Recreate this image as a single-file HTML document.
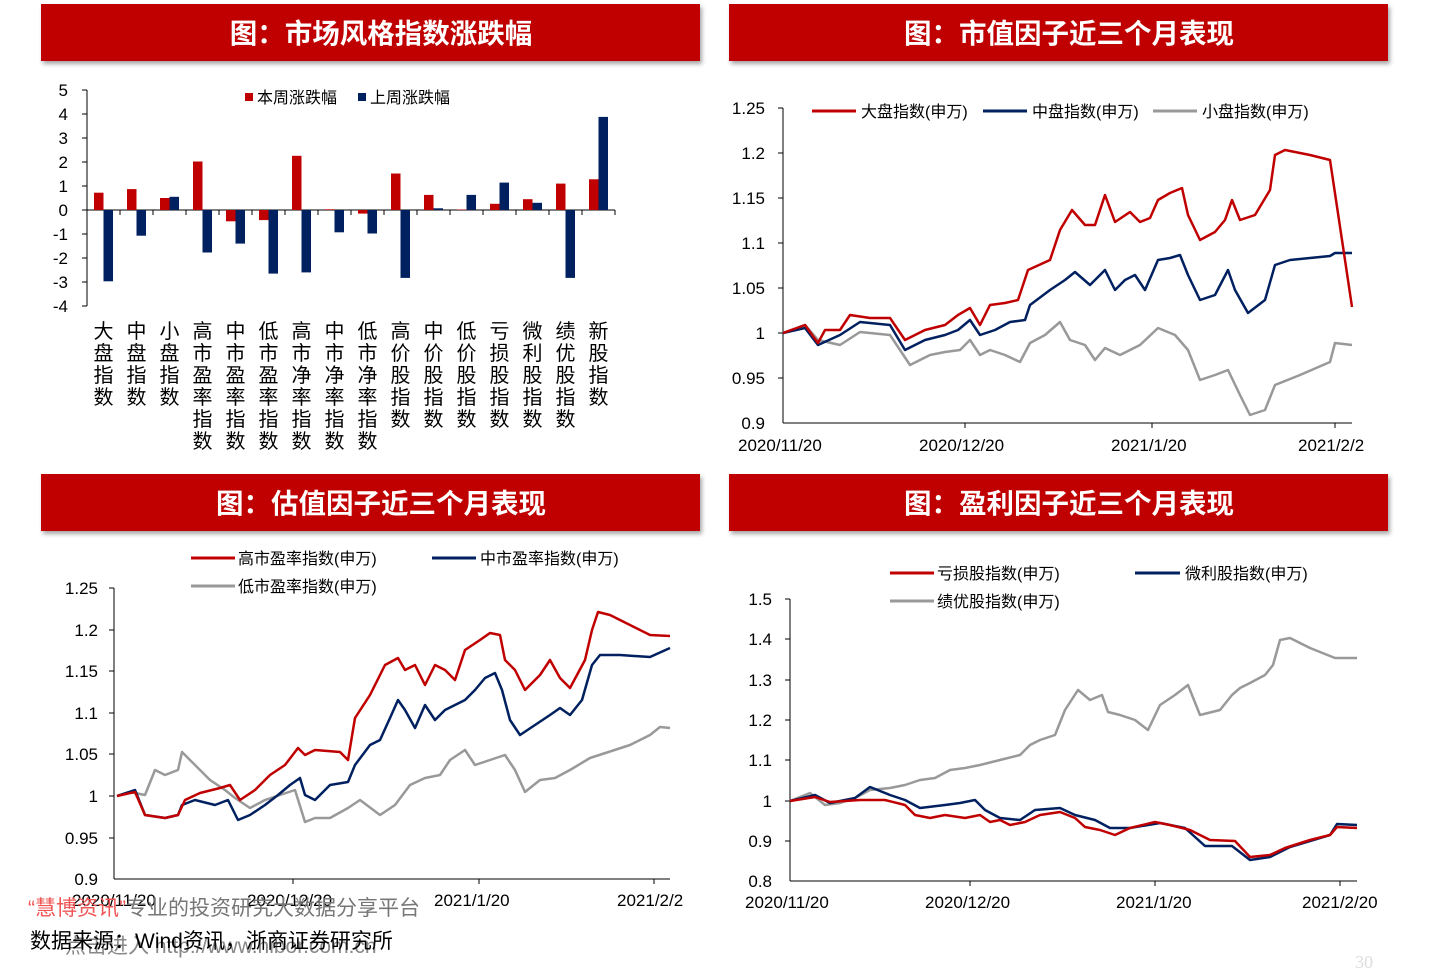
<!DOCTYPE html>
<html><head><meta charset="utf-8"><style>
body{margin:0;background:#fff;}
svg{display:block;font-family:"Liberation Sans","Noto Sans CJK SC",sans-serif;}
.t{font-size:16px;fill:#000}
.ttl{font-size:27.5px;font-weight:bold;fill:#fff}
</style></head><body>
<svg width="1440" height="974" viewBox="0 0 1440 974" xmlns="http://www.w3.org/2000/svg">
<defs><filter id="sh" x="-5%" y="-20%" width="110%" height="150%"><feDropShadow dx="2" dy="3" stdDeviation="2" flood-color="#000" flood-opacity="0.35"/></filter></defs>
<g filter="url(#sh)" fill="#c00000">
<rect x="41" y="4" width="659" height="57"/><rect x="729" y="4" width="659" height="57"/>
<rect x="41" y="474" width="659" height="57"/><rect x="729" y="474" width="659" height="57"/>
</g>
<g class="ttl" text-anchor="middle">
<text x="381" y="43" class="ttl">图：市场风格指数涨跌幅</text>
<text x="1069" y="43" class="ttl">图：市值因子近三个月表现</text>
<text x="381" y="513" class="ttl">图：估值因子近三个月表现</text>
<text x="1069" y="513" class="ttl">图：盈利因子近三个月表现</text>
</g>

<!-- Bar chart -->
<g stroke="#000" stroke-width="1" fill="none">
<line x1="87" y1="90" x2="87" y2="306"/>
<line x1="87" y1="210" x2="615" y2="210"/>
</g>
<g stroke="#000">
<line x1="82" y1="90" x2="87" y2="90"/><line x1="82" y1="114" x2="87" y2="114"/><line x1="82" y1="138" x2="87" y2="138"/><line x1="82" y1="162" x2="87" y2="162"/><line x1="82" y1="186" x2="87" y2="186"/><line x1="82" y1="210" x2="87" y2="210"/><line x1="82" y1="234" x2="87" y2="234"/><line x1="82" y1="258" x2="87" y2="258"/><line x1="82" y1="282" x2="87" y2="282"/><line x1="82" y1="306" x2="87" y2="306"/>
<line x1="120" y1="210" x2="120" y2="215"/><line x1="153" y1="210" x2="153" y2="215"/><line x1="186" y1="210" x2="186" y2="215"/><line x1="219" y1="210" x2="219" y2="215"/><line x1="252" y1="210" x2="252" y2="215"/><line x1="285" y1="210" x2="285" y2="215"/><line x1="318" y1="210" x2="318" y2="215"/><line x1="351" y1="210" x2="351" y2="215"/><line x1="384" y1="210" x2="384" y2="215"/><line x1="417" y1="210" x2="417" y2="215"/><line x1="450" y1="210" x2="450" y2="215"/><line x1="483" y1="210" x2="483" y2="215"/><line x1="516" y1="210" x2="516" y2="215"/><line x1="549" y1="210" x2="549" y2="215"/><line x1="582" y1="210" x2="582" y2="215"/><line x1="615" y1="210" x2="615" y2="215"/>
</g>
<g class="t" text-anchor="end" style="font-size:17px">
<text x="68" y="96">5</text><text x="68" y="120">4</text><text x="68" y="144">3</text><text x="68" y="168">2</text><text x="68" y="192">1</text><text x="68" y="216">0</text><text x="68" y="240">-1</text><text x="68" y="264">-2</text><text x="68" y="288">-3</text><text x="68" y="312">-4</text>
</g>
<g fill="#c00000">
<rect x="94" y="192.7" width="9.5" height="17.3"/>
<rect x="127" y="189.1" width="9.5" height="20.9"/>
<rect x="160" y="198" width="9.5" height="12"/>
<rect x="193" y="161.5" width="9.5" height="48.5"/>
<rect x="226" y="210" width="9.5" height="11.3"/>
<rect x="259" y="210" width="9.5" height="10.1"/>
<rect x="292" y="155.8" width="9.5" height="54.2"/>
<rect x="325" y="209.3" width="9.5" height="0.7"/>
<rect x="358" y="210" width="9.5" height="3.6"/>
<rect x="391" y="173.5" width="9.5" height="36.5"/>
<rect x="424" y="194.9" width="9.5" height="15.1"/>
<rect x="457" y="209.5" width="9.5" height="0.5"/>
<rect x="490" y="203.8" width="9.5" height="6.2"/>
<rect x="523" y="199.2" width="9.5" height="10.8"/>
<rect x="556" y="183.6" width="9.5" height="26.4"/>
<rect x="589" y="179.3" width="9.5" height="30.7"/>
</g>
<g fill="#002060">
<rect x="103.5" y="210" width="9.5" height="71.3"/>
<rect x="136.5" y="210" width="9.5" height="25.7"/>
<rect x="169.5" y="196.8" width="9.5" height="13.2"/>
<rect x="202.5" y="210" width="9.5" height="42.5"/>
<rect x="235.5" y="210" width="9.5" height="33.6"/>
<rect x="268.5" y="210" width="9.5" height="63.6"/>
<rect x="301.5" y="210" width="9.5" height="62.4"/>
<rect x="334.5" y="210" width="9.5" height="22.3"/>
<rect x="367.5" y="210" width="9.5" height="23.5"/>
<rect x="400.5" y="210" width="9.5" height="67.9"/>
<rect x="433.5" y="208.3" width="9.5" height="1.7"/>
<rect x="466.5" y="194.9" width="9.5" height="15.1"/>
<rect x="499.5" y="182.6" width="9.5" height="27.4"/>
<rect x="532.5" y="202.8" width="9.5" height="7.2"/>
<rect x="565.5" y="210" width="9.5" height="67.9"/>
<rect x="598.5" y="116.9" width="9.5" height="93.1"/>
</g>
<rect x="245" y="93" width="8" height="8" fill="#c00000"/><text x="257" y="103" class="t">本周涨跌幅</text>
<rect x="358" y="93" width="8" height="8" fill="#002060"/><text x="370" y="103" class="t">上周涨跌幅</text>
<g style="font-size:20px" text-anchor="middle" fill="#000">
<text x="103.5" y="338"><tspan x="103.5">大</tspan><tspan x="103.5" dy="22">盘</tspan><tspan x="103.5" dy="22">指</tspan><tspan x="103.5" dy="22">数</tspan></text>
<text x="136.5" y="338"><tspan x="136.5">中</tspan><tspan x="136.5" dy="22">盘</tspan><tspan x="136.5" dy="22">指</tspan><tspan x="136.5" dy="22">数</tspan></text>
<text x="169.5" y="338"><tspan x="169.5">小</tspan><tspan x="169.5" dy="22">盘</tspan><tspan x="169.5" dy="22">指</tspan><tspan x="169.5" dy="22">数</tspan></text>
<text x="202.5" y="338"><tspan x="202.5">高</tspan><tspan x="202.5" dy="22">市</tspan><tspan x="202.5" dy="22">盈</tspan><tspan x="202.5" dy="22">率</tspan><tspan x="202.5" dy="22">指</tspan><tspan x="202.5" dy="22">数</tspan></text>
<text x="235.5" y="338"><tspan x="235.5">中</tspan><tspan x="235.5" dy="22">市</tspan><tspan x="235.5" dy="22">盈</tspan><tspan x="235.5" dy="22">率</tspan><tspan x="235.5" dy="22">指</tspan><tspan x="235.5" dy="22">数</tspan></text>
<text x="268.5" y="338"><tspan x="268.5">低</tspan><tspan x="268.5" dy="22">市</tspan><tspan x="268.5" dy="22">盈</tspan><tspan x="268.5" dy="22">率</tspan><tspan x="268.5" dy="22">指</tspan><tspan x="268.5" dy="22">数</tspan></text>
<text x="301.5" y="338"><tspan x="301.5">高</tspan><tspan x="301.5" dy="22">市</tspan><tspan x="301.5" dy="22">净</tspan><tspan x="301.5" dy="22">率</tspan><tspan x="301.5" dy="22">指</tspan><tspan x="301.5" dy="22">数</tspan></text>
<text x="334.5" y="338"><tspan x="334.5">中</tspan><tspan x="334.5" dy="22">市</tspan><tspan x="334.5" dy="22">净</tspan><tspan x="334.5" dy="22">率</tspan><tspan x="334.5" dy="22">指</tspan><tspan x="334.5" dy="22">数</tspan></text>
<text x="367.5" y="338"><tspan x="367.5">低</tspan><tspan x="367.5" dy="22">市</tspan><tspan x="367.5" dy="22">净</tspan><tspan x="367.5" dy="22">率</tspan><tspan x="367.5" dy="22">指</tspan><tspan x="367.5" dy="22">数</tspan></text>
<text x="400.5" y="338"><tspan x="400.5">高</tspan><tspan x="400.5" dy="22">价</tspan><tspan x="400.5" dy="22">股</tspan><tspan x="400.5" dy="22">指</tspan><tspan x="400.5" dy="22">数</tspan></text>
<text x="433.5" y="338"><tspan x="433.5">中</tspan><tspan x="433.5" dy="22">价</tspan><tspan x="433.5" dy="22">股</tspan><tspan x="433.5" dy="22">指</tspan><tspan x="433.5" dy="22">数</tspan></text>
<text x="466.5" y="338"><tspan x="466.5">低</tspan><tspan x="466.5" dy="22">价</tspan><tspan x="466.5" dy="22">股</tspan><tspan x="466.5" dy="22">指</tspan><tspan x="466.5" dy="22">数</tspan></text>
<text x="499.5" y="338"><tspan x="499.5">亏</tspan><tspan x="499.5" dy="22">损</tspan><tspan x="499.5" dy="22">股</tspan><tspan x="499.5" dy="22">指</tspan><tspan x="499.5" dy="22">数</tspan></text>
<text x="532.5" y="338"><tspan x="532.5">微</tspan><tspan x="532.5" dy="22">利</tspan><tspan x="532.5" dy="22">股</tspan><tspan x="532.5" dy="22">指</tspan><tspan x="532.5" dy="22">数</tspan></text>
<text x="565.5" y="338"><tspan x="565.5">绩</tspan><tspan x="565.5" dy="22">优</tspan><tspan x="565.5" dy="22">股</tspan><tspan x="565.5" dy="22">指</tspan><tspan x="565.5" dy="22">数</tspan></text>
<text x="598.5" y="338"><tspan x="598.5">新</tspan><tspan x="598.5" dy="22">股</tspan><tspan x="598.5" dy="22">指</tspan><tspan x="598.5" dy="22">数</tspan></text>
</g>

<!-- Chart 2 -->
<g stroke="#000" fill="none"><line x1="783" y1="108" x2="783" y2="423"/><line x1="783" y1="423" x2="1352" y2="423"/></g>
<g stroke="#000">
<line x1="778" y1="108" x2="783" y2="108"/><line x1="778" y1="153" x2="783" y2="153"/><line x1="778" y1="198" x2="783" y2="198"/><line x1="778" y1="243" x2="783" y2="243"/><line x1="778" y1="288" x2="783" y2="288"/><line x1="778" y1="333" x2="783" y2="333"/><line x1="778" y1="378" x2="783" y2="378"/>
<line x1="965" y1="423" x2="965" y2="428"/><line x1="1152" y1="423" x2="1152" y2="428"/><line x1="1335" y1="423" x2="1335" y2="428"/>
</g>
<g class="t" text-anchor="end" style="font-size:17px">
<text x="765" y="114">1.25</text><text x="765" y="159">1.2</text><text x="765" y="204">1.15</text><text x="765" y="249">1.1</text><text x="765" y="294">1.05</text><text x="765" y="339">1</text><text x="765" y="384">0.95</text><text x="765" y="429">0.9</text>
</g>
<g class="t" style="font-size:17px">
<text x="738" y="451">2020/11/20</text><text x="919" y="451">2020/12/20</text><text x="1111" y="451">2021/1/20</text><text x="1298" y="451">2021/2/2</text>
</g>
<g fill="none" stroke-width="2.5" stroke-linejoin="round">
<polyline stroke="#999" points="783,333 805,325 818,340 840,345 860,332 890,335 910,365 930,355 945,352 960,350 970,340 980,355 990,350 1005,355 1020,362 1030,343 1045,335 1060,322 1070,340 1085,345 1095,360 1105,348 1120,355 1140,345 1158,328 1175,335 1188,350 1200,380 1215,375 1228,370 1240,395 1250,415 1265,410 1275,385 1300,375 1330,362 1335,343 1352,345"/>
<polyline stroke="#002060" points="783,333 805,328 818,345 840,335 860,322 890,325 905,350 925,340 945,335 958,330 970,320 980,335 995,330 1010,322 1025,320 1030,305 1050,290 1065,280 1075,272 1090,285 1105,270 1115,290 1125,280 1135,275 1145,290 1158,260 1170,258 1180,255 1188,275 1200,300 1215,295 1228,270 1235,290 1248,313 1265,300 1275,265 1290,260 1330,256 1335,253 1352,253"/>
<polyline stroke="#c00000" points="783,333 805,325 818,343 825,330 840,330 850,315 870,318 890,318 905,340 925,330 945,325 958,315 970,308 980,325 990,305 1005,303 1018,300 1028,270 1050,260 1060,230 1072,210 1085,225 1095,225 1105,195 1115,222 1130,212 1140,222 1150,218 1158,200 1170,193 1182,188 1188,215 1200,240 1215,232 1225,220 1232,200 1240,220 1255,215 1270,190 1275,155 1285,150 1310,155 1330,160 1345,260 1352,307"/>
</g>
<g stroke-width="3"><line x1="812" y1="111" x2="856" y2="111" stroke="#c00000"/><line x1="983" y1="111" x2="1027" y2="111" stroke="#002060"/><line x1="1153" y1="111" x2="1197" y2="111" stroke="#999"/></g>
<g class="t"><text x="861" y="117">大盘指数(申万)</text><text x="1032" y="117">中盘指数(申万)</text><text x="1202" y="117">小盘指数(申万)</text></g>

<!-- Chart 3 -->
<g stroke="#000" fill="none"><line x1="114" y1="588" x2="114" y2="879"/><line x1="114" y1="879" x2="670" y2="879"/></g>
<g stroke="#000">
<line x1="109" y1="588" x2="114" y2="588"/><line x1="109" y1="630" x2="114" y2="630"/><line x1="109" y1="671" x2="114" y2="671"/><line x1="109" y1="713" x2="114" y2="713"/><line x1="109" y1="754" x2="114" y2="754"/><line x1="109" y1="796" x2="114" y2="796"/><line x1="109" y1="838" x2="114" y2="838"/>
<line x1="293" y1="879" x2="293" y2="884"/><line x1="479" y1="879" x2="479" y2="884"/><line x1="654" y1="879" x2="654" y2="884"/>
</g>
<g class="t" text-anchor="end" style="font-size:17px">
<text x="98" y="594">1.25</text><text x="98" y="636">1.2</text><text x="98" y="677">1.15</text><text x="98" y="719">1.1</text><text x="98" y="760">1.05</text><text x="98" y="802">1</text><text x="98" y="844">0.95</text><text x="98" y="885">0.9</text>
</g>
<g class="t" style="font-size:17px">
<text x="72" y="906">2020/11/20</text><text x="247" y="906">2020/12/20</text><text x="434" y="906">2021/1/20</text><text x="617" y="906">2021/2/2</text>
</g>
<g fill="none" stroke-width="2.5" stroke-linejoin="round">
<polyline stroke="#999" points="117,796 130,792 145,795 155,770 165,775 178,770 182,752 195,765 210,780 225,790 235,798 250,808 265,800 280,795 295,790 305,822 315,818 330,818 348,808 360,800 380,815 395,805 410,785 425,778 440,775 450,760 465,750 475,765 490,760 505,755 515,770 525,792 540,780 555,778 570,770 590,758 630,745 650,735 660,727 670,728"/>
<polyline stroke="#002060" points="117,796 135,790 145,815 165,818 178,815 182,805 195,800 215,805 228,800 238,820 250,815 265,805 278,795 290,785 300,778 305,795 315,800 330,785 348,782 355,765 370,745 380,740 390,718 398,700 405,710 415,728 425,705 435,720 445,710 465,700 475,690 485,678 495,673 502,690 510,720 520,735 535,725 550,715 560,708 570,715 582,700 592,665 600,655 620,655 650,657 670,648"/>
<polyline stroke="#c00000" points="117,796 135,792 145,815 165,818 178,815 185,800 200,793 220,788 230,785 240,800 255,790 270,775 285,765 298,748 305,755 315,750 340,752 348,760 355,718 370,695 385,665 398,658 405,670 415,665 425,685 435,665 445,670 455,680 465,650 480,640 490,633 500,635 505,660 515,670 525,690 540,675 550,660 560,678 570,688 585,660 592,630 598,612 610,615 630,625 650,635 670,636"/>
</g>
<g stroke-width="3"><line x1="191" y1="558" x2="235" y2="558" stroke="#c00000"/><line x1="432" y1="558" x2="476" y2="558" stroke="#002060"/><line x1="191" y1="586" x2="235" y2="586" stroke="#999"/></g>
<g class="t"><text x="238" y="564">高市盈率指数(申万)</text><text x="480" y="564">中市盈率指数(申万)</text><text x="238" y="592">低市盈率指数(申万)</text></g>

<!-- Chart 4 -->
<g stroke="#000" fill="none"><line x1="790" y1="599" x2="790" y2="881"/><line x1="790" y1="881" x2="1357" y2="881"/></g>
<g stroke="#000">
<line x1="785" y1="599" x2="790" y2="599"/><line x1="785" y1="639" x2="790" y2="639"/><line x1="785" y1="680" x2="790" y2="680"/><line x1="785" y1="720" x2="790" y2="720"/><line x1="785" y1="760" x2="790" y2="760"/><line x1="785" y1="801" x2="790" y2="801"/><line x1="785" y1="841" x2="790" y2="841"/>
<line x1="970" y1="881" x2="970" y2="886"/><line x1="1155" y1="881" x2="1155" y2="886"/><line x1="1340" y1="881" x2="1340" y2="886"/>
</g>
<g class="t" text-anchor="end" style="font-size:17px">
<text x="772" y="605">1.5</text><text x="772" y="645">1.4</text><text x="772" y="686">1.3</text><text x="772" y="726">1.2</text><text x="772" y="766">1.1</text><text x="772" y="807">1</text><text x="772" y="847">0.9</text><text x="772" y="887">0.8</text>
</g>
<g class="t" style="font-size:17px">
<text x="745" y="908">2020/11/20</text><text x="925" y="908">2020/12/20</text><text x="1116" y="908">2021/1/20</text><text x="1302" y="908">2021/2/20</text>
</g>
<g fill="none" stroke-width="2.5" stroke-linejoin="round">
<polyline stroke="#999" points="790,801 810,793 825,805 840,803 855,798 870,790 890,788 905,785 920,780 935,778 950,770 965,768 980,765 1000,760 1020,755 1030,745 1040,740 1055,735 1065,710 1078,690 1090,700 1102,695 1108,712 1120,715 1135,720 1148,730 1160,705 1175,695 1188,685 1200,715 1220,710 1232,695 1240,688 1250,683 1265,675 1273,665 1280,640 1290,638 1310,648 1335,658 1357,658"/>
<polyline stroke="#002060" points="790,801 815,795 830,803 855,798 870,787 890,795 905,800 920,808 945,805 960,803 975,800 985,810 1000,818 1020,820 1035,810 1060,808 1075,815 1095,820 1110,828 1130,828 1160,823 1185,828 1205,846 1232,846 1250,860 1270,857 1290,847 1330,835 1337,824 1357,825"/>
<polyline stroke="#c00000" points="790,801 815,797 830,802 860,800 885,800 905,805 915,815 930,818 945,815 965,818 980,815 990,822 1000,820 1010,825 1025,822 1040,815 1060,812 1075,818 1085,827 1100,830 1115,835 1130,828 1155,822 1170,825 1190,830 1210,840 1235,841 1250,857 1270,855 1285,848 1310,840 1330,835 1337,827 1357,828"/>
</g>
<g stroke-width="3"><line x1="890" y1="573" x2="934" y2="573" stroke="#c00000"/><line x1="1135" y1="573" x2="1180" y2="573" stroke="#002060"/><line x1="890" y1="601" x2="934" y2="601" stroke="#999"/></g>
<g class="t"><text x="937" y="579">亏损股指数(申万)</text><text x="1185" y="579">微利股指数(申万)</text><text x="937" y="607">绩优股指数(申万)</text></g>

<!-- Footer -->
<text x="28" y="915" style="font-size:21px;fill:#777"><tspan fill="#e55">“慧博资讯”</tspan>专业的投资研究大数据分享平台</text>
<text x="65" y="953" style="font-size:21px;fill:#888">点击进入 http://www.hibor.com.cn</text>
<text x="30" y="948" style="font-size:21px;fill:#000">数据来源：Wind资讯，浙商证券研究所</text>
<text x="1355" y="968" style="font-size:18px;fill:#ddd;font-family:'Liberation Serif',serif">30</text>
</svg>
</body></html>
